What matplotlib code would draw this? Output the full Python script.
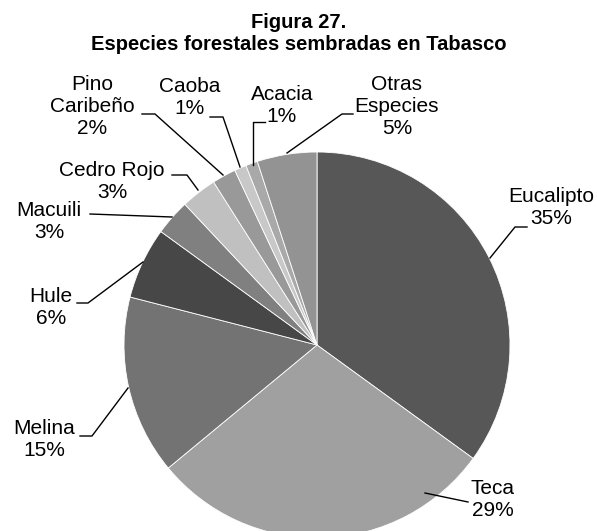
import matplotlib.pyplot as plt

plt.rcParams['font.family'] = ['Liberation Sans', 'DejaVu Sans']

# Data
species = ["Eucalipto", "Teca", "Melina", "Hule", "Macuili", "Cedro Rojo",
           "Pino\nCaribeño", "Caoba", "Acacia", "Otras\nEspecies"]
shares = [35, 29, 15, 6, 3, 3, 2, 1, 1, 5]
greys = ["#575757", "#a0a0a0", "#737373", "#474747", "#808080", "#c0c0c0",
         "#999999", "#c8c8c8", "#a9a9a9", "#939393"]

W, H = 597, 531
CX, CY, R = 317, 345, 193  # pie centre and radius in pixels


def px(x, y):
    """pixel position -> data coords (pie radius = 1)"""
    return (x - CX) / R, (CY - y) / R


# label block centres and leader polylines, in pixels
label_pos = [(551, 208), (493, 500), (44, 440), (51, 308), (49, 221),
             (112, 182), (92, 107), (190, 98), (282, 105), (397, 107)]
leaders = [
    [(490, 258), (515, 227), (527, 227)],
    [(425, 493), (468, 502)],
    [(128, 388), (92, 436), (80, 436)],
    [(143, 262), (88, 303), (77, 303)],
    [(172, 217), (90, 214)],
    [(198, 190), (187, 175), (172, 175)],
    [(223, 175), (155, 114), (142, 114)],
    [(240, 167), (223, 117), (210, 117)],
    [(253, 165), (253, 122), (265, 122)],
    [(287, 153), (342, 114), (353, 114)],
]

fig = plt.figure(figsize=(W / 100, H / 100), dpi=100)
ax = fig.add_axes([0, 0, 1, 1])

ax.pie(shares, colors=greys, startangle=90, counterclock=False, radius=1,
       wedgeprops=dict(edgecolor="white", linewidth=0.6))

for name, val, (lx, ly), path in zip(species, shares, label_pos, leaders):
    tx, ty = px(lx, ly)
    ax.text(tx, ty, f"{name}\n{val}%", ha="center", va="center",
            fontsize=15, linespacing=1.2, color="black")
    xs, ys = zip(*[px(a, b) for a, b in path])
    ax.plot(xs, ys, color="black", lw=1)

ax.set_xlim(-CX / R, (W - CX) / R)
ax.set_ylim((CY - H) / R, CY / R)
ax.set_aspect("equal")
ax.axis("off")

fig.text(0.5, 1 - 33 / H, "Figura 27.\nEspecies forestales sembradas en Tabasco",
         ha="center", va="center", fontsize=14.5, fontweight="bold",
         linespacing=1.2)

fig.savefig("out.png", dpi=100, facecolor="white")
